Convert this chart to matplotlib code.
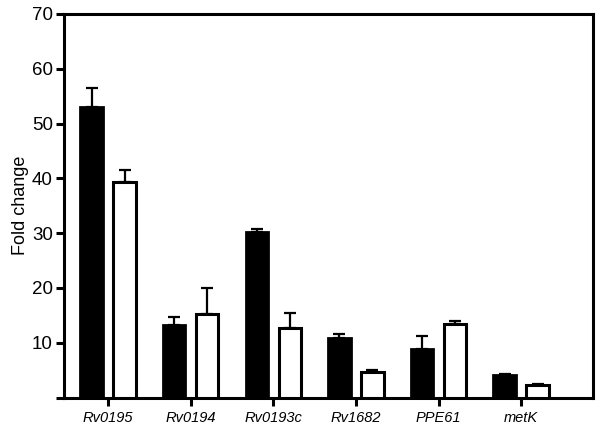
import matplotlib
matplotlib.use("Agg")
import matplotlib.pyplot as plt
import numpy as np

genes = ["Rv0195", "Rv0194", "Rv0193c", "Rv1682", "PPE61", "metK"]
black_vals = [53.0, 13.2, 30.2, 10.8, 8.8, 4.1]
black_err = [3.5, 1.5, 0.6, 0.8, 2.4, 0.2]
white_vals = [39.3, 15.3, 12.7, 4.6, 13.5, 2.3]
white_err = [2.3, 4.7, 2.7, 0.4, 0.5, 0.15]
yticks = [10, 20, 30, 40, 50, 60, 70]

plt.rcParams['font.family'] = ['Liberation Sans', 'DejaVu Sans']

fig = plt.figure(figsize=(6.01, 4.33), dpi=100)
W, H = 601, 433
ax = fig.add_axes([64/W, 1-397.6/H, (593-64)/W, (397.6-14)/H])

x = np.arange(len(genes))
w = 0.27
ax.bar(x - 0.2, black_vals, w, color='black', edgecolor='black', linewidth=2.0, zorder=3)
ax.bar(x + 0.2, white_vals, w, color='white', edgecolor='black', linewidth=2.2, zorder=3)
ax.errorbar(x - 0.2, black_vals, yerr=[np.zeros(len(genes)), black_err], fmt='none',
            ecolor='black', elinewidth=1.6, capsize=4.5, capthick=1.6, zorder=2)
ax.errorbar(x + 0.2, white_vals, yerr=[np.zeros(len(genes)), white_err], fmt='none',
            ecolor='black', elinewidth=1.6, capsize=4.5, capthick=1.6, zorder=2)

ax.set_xlim(-0.533, 5.87)
ax.set_ylim(0, 70)
ax.set_yticks([0] + yticks)
ax.set_yticklabels([''] + [str(t) for t in yticks], fontsize=13.5)
ax.set_xticks(x)
ax.set_xticklabels(genes, fontsize=10.5, fontstyle='italic')
ax.set_ylabel("Fold change", fontsize=13, labelpad=2)

for s in ax.spines.values():
    s.set_linewidth(2.2)
ax.tick_params(axis='y', direction='out', length=6, width=2.2, pad=2)
ax.tick_params(axis='x', direction='out', length=5.5, width=2.2, pad=4)

fig.savefig("out.png", dpi=100)
